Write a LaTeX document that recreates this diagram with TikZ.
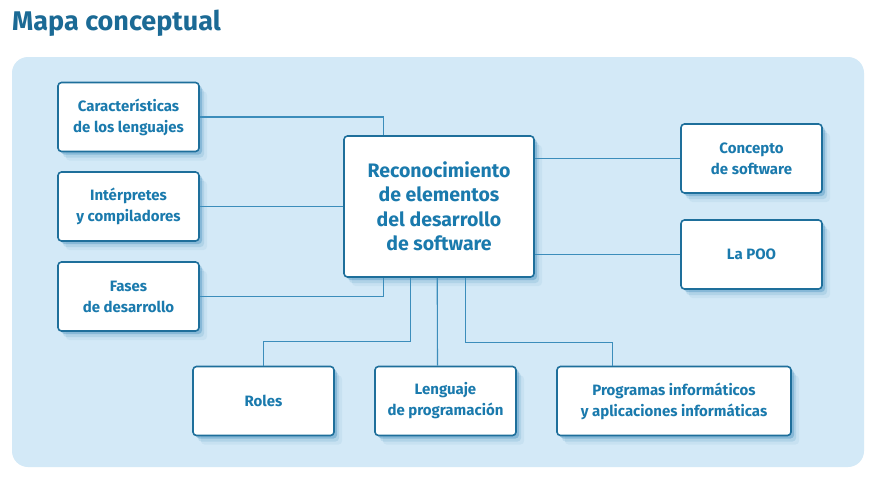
\documentclass[tikz,border=0pt]{standalone}
\usepackage{fontspec}
\setmainfont{Fira Sans}
\usetikzlibrary{shadows}
\definecolor{panel}{HTML}{D3E9F7}
\definecolor{bordc}{HTML}{1E6F9B}
\definecolor{txtc}{HTML}{1A7AAD}
\definecolor{titc}{HTML}{1B6A95}
\definecolor{linec}{HTML}{3C8DBB}
\definecolor{shadc}{HTML}{2A7FB0}
\tikzset{
  conbox/.style={draw=bordc, line width=1.6pt, fill=white, rounded corners=3.5pt,
    align=center, text=txtc, font=\fontsize{15}{21}\selectfont\bfseries,
    minimum width=141pt, minimum height=69pt, inner sep=2pt,
    drop shadow={shadow xshift=3pt, shadow yshift=-3pt, fill=shadc, opacity=.30},
    drop shadow={shadow xshift=5pt, shadow yshift=-6pt, fill=shadc, opacity=.14},
    drop shadow={shadow xshift=8pt, shadow yshift=-9pt, fill=shadc, opacity=.07}},
  mainbox/.style={conbox, font=\fontsize{19.5}{24.5}\selectfont\bfseries,
    minimum width=190pt, minimum height=141pt},
  conn/.style={draw=linec, line width=1.1pt}
}
\begin{document}
\begin{tikzpicture}[x=1pt,y=-1pt]
\useasboundingbox (0,0) rectangle (882,479);
\fill[white] (0,0) rectangle (882,479);
\fill[panel, rounded corners=16pt] (12,57) rectangle (864,467);
\node[anchor=base west, inner sep=0pt, text=titc, font=\fontsize{27}{30}\selectfont\bfseries] (title) at (12,30) {Mapa conceptual};

\node[conbox] (car) at (128.5,117) {Características\\de los lenguajes};
\node[conbox] (int) at (128.5,206.5) {Intérpretes\\y compiladores};
\node[conbox] (fas) at (128.5,296.5) {Fases\\de desarrollo};
\node[mainbox] (cen) at (439,206.5) {Reconocimiento\\de elementos\\del desarrollo\\de software};
\node[conbox] (con) at (751.5,158.5) {Concepto\\de software};
\node[conbox] (poo) at (751.5,254.5) {La POO};
\node[conbox] (rol) at (263.5,401) {Roles};
\node[conbox] (len) at (445.5,401) {Lenguaje\\de programación};
\node[conbox, minimum width=234pt] (pro) at (674,401) {Programas informáticos\\y aplicaciones informáticas};

\draw[conn] (car.east) -| ([xshift=40pt]cen.north west);
\draw[conn] (int.east) -- (cen.west);
\draw[conn] (fas.east) -| ([xshift=40pt]cen.south west);
\draw[conn] (rol.north) -- ++(0,-24) -| ([xshift=67pt]cen.south west);
\draw[conn] ([xshift=94pt]cen.south west) -- ([xshift=-8pt]len.north);
\draw[conn] ([xshift=122pt]cen.south west) -- ++(0,65) -| ([xshift=56pt]pro.north west);
\draw[conn] (cen.east |- con.west) -- (con.west);
\draw[conn] (cen.east |- poo.west) -- (poo.west);
\end{tikzpicture}
\end{document}
